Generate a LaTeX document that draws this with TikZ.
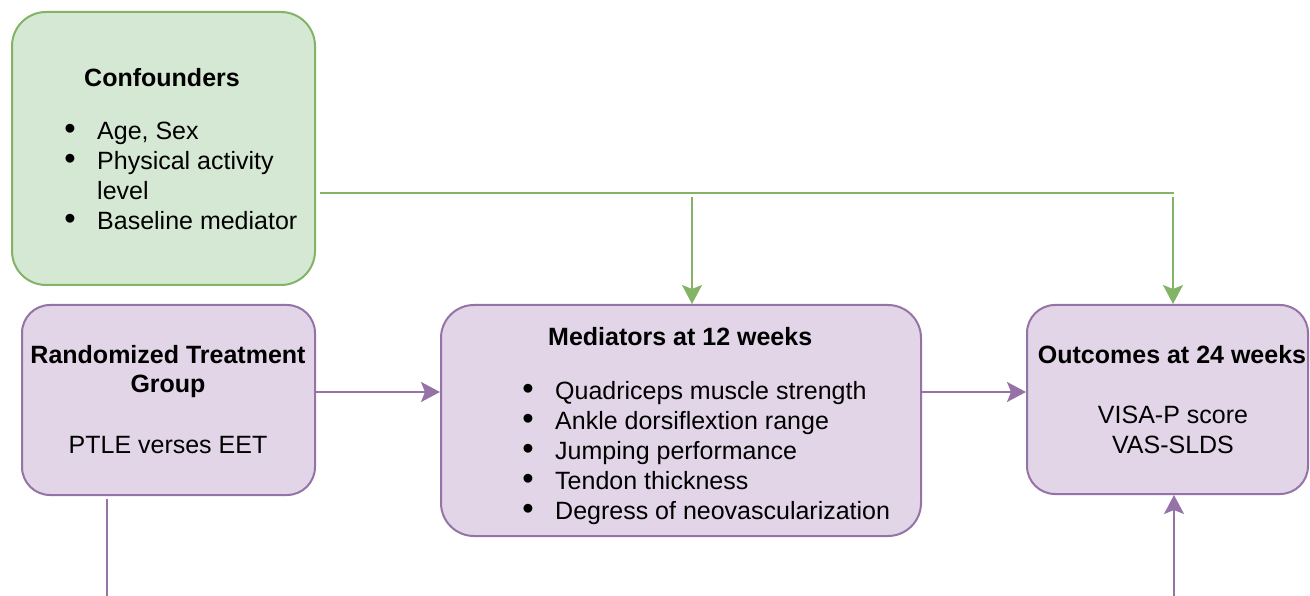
\documentclass[tikz,border=0pt]{standalone}
\usepackage{fontspec}
\setmainfont{Liberation Sans}
\usetikzlibrary{arrows.meta}
\definecolor{gfill}{HTML}{D5E8D4}
\definecolor{gline}{HTML}{82B366}
\definecolor{pfill}{HTML}{E1D5E7}
\definecolor{pline}{HTML}{9673A6}
\newcommand{\bigbul}{\scalebox{1.3}{•}}
\begin{document}
\begin{tikzpicture}[x=1pt,y=-1pt,
  gbox/.style={draw=gline,fill=gfill,line width=2pt,rectangle,inner sep=0pt},
  pbox/.style={draw=pline,fill=pfill,line width=2pt,rectangle,inner sep=0pt},
  txt/.style={inner sep=0pt,font=\fontsize{25}{30}\selectfont,text=black},
  ttl/.style={txt,font=\fontsize{25}{30}\selectfont\bfseries},
  bul/.style={txt,anchor=base},
  item/.style={txt,anchor=base west},
  gconn/.style={draw=gline,line width=2pt},
  garr/.style={gconn,-{Stealth[length=19pt,width=20pt,inset=4pt]}},
  pconn/.style={draw=pline,line width=2pt},
  parr/.style={pconn,-{Stealth[length=19pt,width=20pt,inset=4pt]}}
]
\useasboundingbox (0,0) rectangle (1310,596);

% boxes
\node[gbox,rounded corners=34pt,minimum width=303pt,minimum height=273pt] (conf) at (163.5,148.5) {};
\node[pbox,rounded corners=28pt,minimum width=293pt,minimum height=190pt] (rand) at (168.5,400) {};
\node[pbox,rounded corners=33pt,minimum width=480pt,minimum height=231pt] (med) at (681,420.5) {};
\node[pbox,rounded corners=28pt,minimum width=281pt,minimum height=189pt] (out) at (1167.5,399.5) {};

% confounders text
\node[ttl,anchor=base] (ct) at (162,87) {Confounders};
\node[bul] (cb1) at (70,140) {\bigbul};
\node[item] (ci1) at (97,140) {Age, Sex};
\node[bul] (cb2) at (70,170) {\bigbul};
\node[item] (ci2) at (97,170) {Physical activity};
\node[item] (ci2b) at (97,200) {level};
\node[bul] (cb3) at (70,230) {\bigbul};
\node[item] (ci3) at (97,230) {Baseline mediator};

% randomized text
\node[ttl,anchor=base] (rt1) at (168,363) {Randomized Treatment};
\node[ttl,anchor=base] (rt2) at (168,392) {Group};
\node[txt,anchor=base] (rt3) at (168,453) {PTLE verses EET};

% mediators text
\node[ttl,anchor=base west] (mt) at (548,345) {Mediators at 12 weeks};
\node[bul] (mb1) at (528,399) {\bigbul};
\node[item] (mi1) at (555,399) {Quadriceps muscle strength};
\node[bul] (mb2) at (528,429) {\bigbul};
\node[item] (mi2) at (555,429) {Ankle dorsiflextion range};
\node[bul] (mb3) at (528,459) {\bigbul};
\node[item] (mi3) at (555,459) {Jumping performance};
\node[bul] (mb4) at (528,489) {\bigbul};
\node[item] (mi4) at (555,489) {Tendon thickness};
\node[bul] (mb5) at (528,519) {\bigbul};
\node[item] (mi5) at (555,519) {Degress of neovascularization};

% outcomes text
\node[ttl,anchor=base] (ot) at (1172,363) {Outcomes at 24 weeks};
\node[txt,anchor=base] (o1) at (1173,423) {VISA-P score};
\node[txt,anchor=base] (o2) at (1173,453) {VAS-SLDS};

% green connectors
\coordinate (gs) at (320,193.5);
\coordinate (ge) at (1174,193.5);
\coordinate (g1) at (692,197);
\coordinate (g2) at (1173,197);
\draw[gconn] (gs) -- (ge);
\draw[garr] (g1) -- (g1 |- med.north);
\draw[garr] (g2) -- (g2 |- out.north);

% purple connectors
\coordinate (p1) at (316,392);
\coordinate (p2) at (922,392);
\draw[parr] (p1) -- (p1 -| med.west);
\draw[parr] (p2) -- (p2 -| out.west);
\coordinate (b1) at (107,499);
\coordinate (b1e) at (107,597);
\draw[pconn] (b1) -- (b1e);
\coordinate (b2) at (1174,597);
\draw[parr] (b2) -- (b2 |- out.south);
\end{tikzpicture}
\end{document}
